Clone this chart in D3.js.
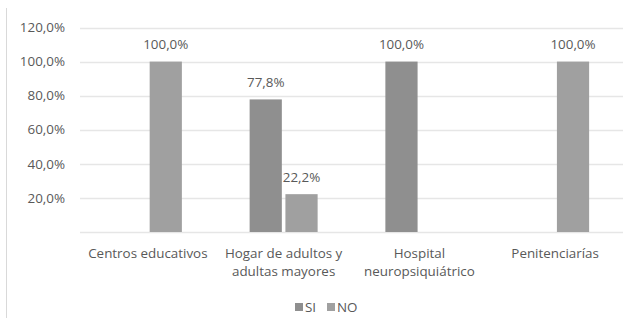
<!DOCTYPE html>
<meta charset="utf-8">
<script src="https://cdn.jsdelivr.net/npm/d3@7"></script>
<style>
body { margin: 0; background: #fff; }
text { font-family: "Open Sans", sans-serif; fill: #595959; }
</style>
<svg class="chart" width="633" height="328"></svg>
<script>
// categorias y series (null = sin valor)
var categories = [["Centros educativos"], ["Hogar de adultos y", "adultas mayores"], ["Hospital", "neuropsiquiátrico"], ["Penitenciarías"]];
var series = ["SI", "NO"];
var si = [null, 77.8, 100, null];
var no = [100, 22.2, null, 100];
var ticks = [20, 40, 60, 80, 100, 120];
var colors = ["#8f8f8f", "#a0a0a0"];

var svg = d3.select(".chart");
var plotL = 80, plotR = 623, plotT = 27.5, plotB = 232;
var fs = "13.4px";

// borde izquierdo del grafico
svg.append("line").attr("x1", 6.5).attr("x2", 6.5).attr("y1", 8).attr("y2", 318)
    .attr("stroke", "#d9d9d9");

var x = d3.scaleBand().domain(d3.range(categories.length)).range([plotL, plotR]);
var xs = d3.scaleBand().domain(series).range([x.bandwidth() / 2 - 34, x.bandwidth() / 2 + 34]).paddingInner(0.1);
var y = d3.scaleLinear().domain([0, 120]).range([plotB, plotT]);
var fmt = function(v) { return d3.format(".1f")(v).replace(".", ",") + "%"; };

// lineas de cuadricula
svg.append("g").selectAll("line").data([0].concat(ticks)).enter().append("line")
    .attr("x1", plotL).attr("x2", plotR)
    .attr("y1", function(d) { return Math.round(y(d)) + 0.5; })
    .attr("y2", function(d) { return Math.round(y(d)) + 0.5; })
    .attr("stroke", "#e6e6e6").attr("stroke-width", 1.3);

svg.append("g").selectAll("text").data(ticks).enter().append("text")
    .attr("x", 65).attr("y", function(d) { return y(d); }).attr("dy", "0.35em")
    .attr("text-anchor", "end").attr("font-size", fs).text(fmt);

var rows = [];
[si, no].forEach(function(vals, s) {
  vals.forEach(function(v, i) { if (v != null) rows.push({i: i, s: s, v: v}); });
});

svg.append("g").selectAll("rect").data(rows).enter().append("rect")
    .attr("x", function(d) { return x(d.i) + xs(series[d.s]); })
    .attr("width", xs.bandwidth())
    .attr("y", function(d) { return y(d.v); })
    .attr("height", function(d) { return plotB - y(d.v); })
    .attr("fill", function(d) { return colors[d.s]; });

svg.append("g").selectAll("text").data(rows).enter().append("text")
    .attr("x", function(d) { return x(d.i) + xs(series[d.s]) + xs.bandwidth() / 2; })
    .attr("y", function(d) { return y(d.v) - 17; })
    .attr("dy", "0.35em")
    .attr("text-anchor", "middle").attr("font-size", fs)
    .text(function(d) { return fmt(d.v); });

// etiquetas de categorias
var cat = svg.append("g").selectAll("text").data(categories).enter().append("text")
    .attr("x", function(d, i) { return x(i) + x.bandwidth() / 2; })
    .attr("y", 258).attr("text-anchor", "middle").attr("font-size", fs);
cat.selectAll("tspan").data(function(d) { return d; }).enter().append("tspan")
    .attr("x", function() { return this.parentNode.getAttribute("x"); })
    .attr("dy", function(d, j) { return j ? 18 : 0; })
    .text(function(d) { return d; });

// leyenda
var legX = [295, 327];
var leg = svg.append("g").selectAll("g").data(series).enter().append("g")
    .attr("transform", function(d, i) { return "translate(" + legX[i] + ",303)"; });
leg.append("rect").attr("width", 8).attr("height", 8).attr("fill", function(d, i) { return colors[i]; });
leg.append("text").attr("x", 10).attr("y", 4).attr("dy", "0.35em").attr("font-size", fs)
    .text(function(d) { return d; });
</script>
